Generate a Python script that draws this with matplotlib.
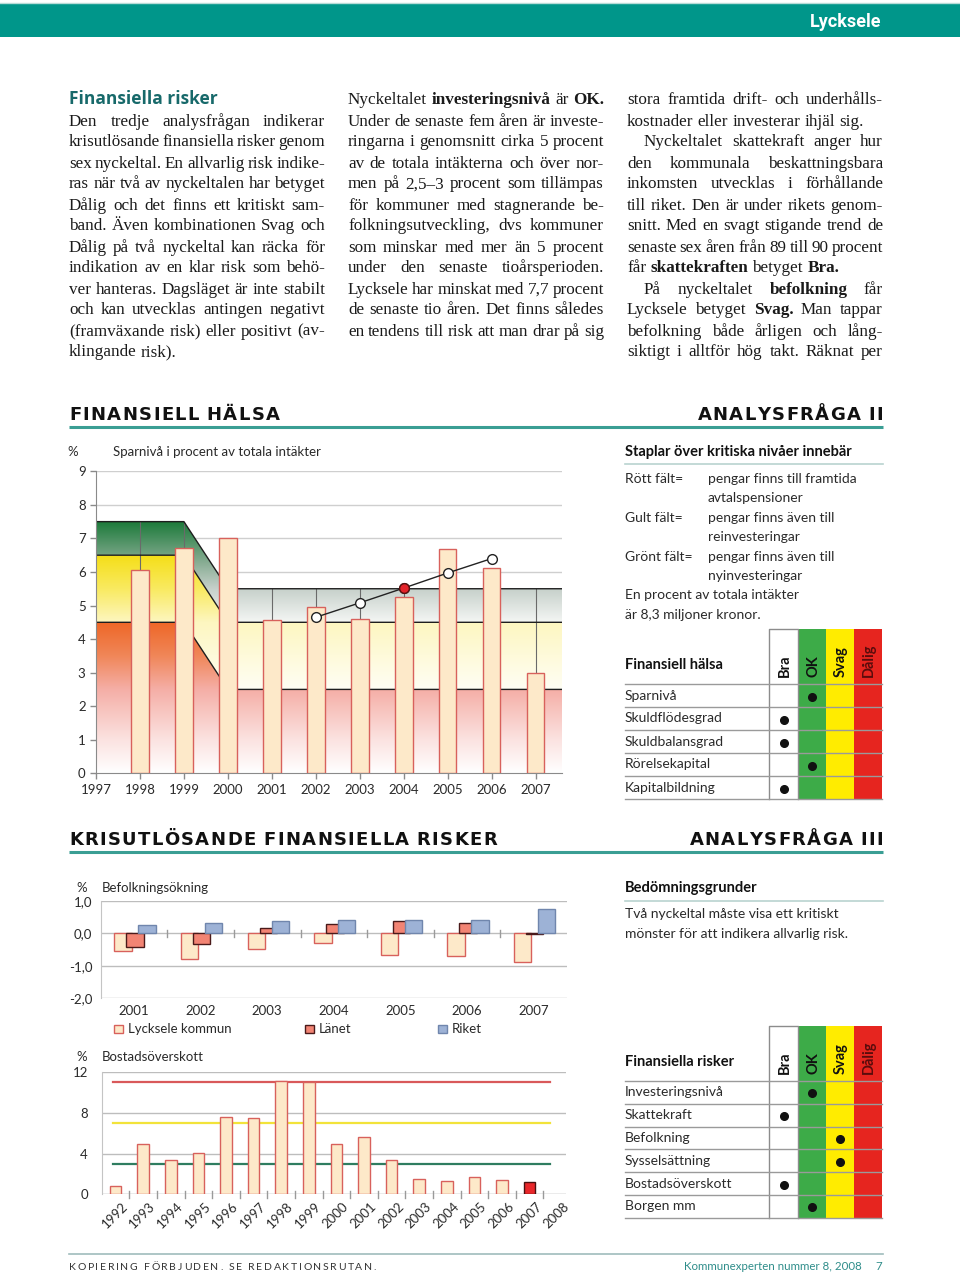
import matplotlib
matplotlib.use('Agg')
import numpy as np
import matplotlib.pyplot as plt
from matplotlib.colors import to_rgb
from matplotlib.patches import Rectangle, Polygon

# ---- data ----
spar_years = [1998, 1999, 2000, 2001, 2002, 2003, 2004, 2005, 2006, 2007]
spar_values = [6.05, 6.7, 7.0, 4.57, 4.95, 4.6, 5.25, 6.68, 6.12, 3.0]
trend_years = [2002, 2003, 2004, 2005, 2006]
trend_values = [4.65, 5.08, 5.52, 5.97, 6.4]
trend_red_year = 2004
band_x = [1997, 1999, 2000, 2007.6]
green_top = [7.5, 7.5, 5.5, 5.5]
yellow_top = [6.5, 6.5, 4.5, 4.5]
red_top = [4.5, 4.5, 2.5, 2.5]

pop_years = ['2001', '2002', '2003', '2004', '2005', '2006', '2007']
pop_lycksele = [-0.55, -0.79, -0.49, -0.28, -0.66, -0.69, -0.87]
pop_lanet = [-0.41, -0.33, 0.18, 0.30, 0.38, 0.32, -0.02]
pop_riket = [0.26, 0.31, 0.37, 0.41, 0.42, 0.42, 0.75]
pop_ticks = [-2, -1, 0, 1]
pop_ticklabels = ['-2,0', '-1,0', '0,0', '1,0']

bost_years = ['1992', '1993', '1994', '1995', '1996', '1997', '1998', '1999', '2000',
              '2001', '2002', '2003', '2004', '2005', '2006', '2007', '2008']
bost_values = [0.79, 4.98, 3.41, 4.10, 7.57, 7.48, 11.18, 11.08, 4.98,
               5.60, 3.41, 1.48, 1.28, 1.70, 1.41, 1.21]
bost_limits = [11, 7, 3]

grade_cols = ['Bra', 'OK', 'Svag', 'Dålig']
halsa_rows = ['Sparnivå', 'Skuldflödesgrad', 'Skuldbalansgrad', 'Rörelsekapital', 'Kapitalbildning']
halsa_grades = ['OK', 'Bra', 'Bra', 'OK', 'Bra']
risk_rows = ['Investeringsnivå', 'Skattekraft', 'Befolkning', 'Sysselsättning', 'Bostadsöverskott', 'Borgen mm']
risk_grades = ['OK', 'Bra', 'Svag', 'Svag', 'Bra', 'OK']

col1 = ["Den tredje analysfrågan indikerar",
        "krisutlösande finansiella risker genom",
        "sex nyckeltal. En allvarlig risk indike-",
        "ras när två av nyckeltalen har betyget",
        "Dålig och det finns ett kritiskt sam-",
        "band. Även kombinationen Svag och",
        "Dålig på två nyckeltal kan räcka för",
        "indikation av en klar risk som behö-",
        "ver hanteras. Dagsläget är inte stabilt",
        "och kan utvecklas antingen negativt",
        "(framväxande risk) eller positivt (av-",
        "klingande risk).|"]
col2 = ["Nyckeltalet **investeringsnivå** är **OK.**",
        "Under de senaste fem åren är investe-",
        "ringarna i genomsnitt cirka 5 procent",
        "av de totala intäkterna och över nor-",
        "men på 2,5–3 procent som tillämpas",
        "för kommuner med stagnerande be-",
        "folkningsutveckling, dvs kommuner",
        "som minskar med mer än 5 procent",
        "under den senaste tioårsperioden.",
        "Lycksele har minskat med 7,7 procent",
        "de senaste tio åren. Det finns således",
        "en tendens till risk att man drar på sig"]
col3 = ["stora framtida drift- och underhålls-",
        "kostnader eller investerar ihjäl sig.|",
        ">Nyckeltalet skattekraft anger hur",
        "den kommunala beskattningsbara",
        "inkomsten utvecklas i förhållande",
        "till riket. Den är under rikets genom-",
        "snitt. Med en svagt stigande trend de",
        "senaste sex åren från 89 till 90 procent",
        "får **skattekraften** betyget **Bra.**|",
        ">På nyckeltalet **befolkning** får",
        "Lycksele betyget **Svag.** Man tappar",
        "befolkning både årligen och lång-",
        "siktigt i alltför hög takt. Räknat per"]

key_rows = [('Rött fält=', ['pengar finns till framtida', 'avtalspensioner']),
            ('Gult fält=', ['pengar finns även till', 'reinvesteringar']),
            ('Grönt fält=', ['pengar finns även till', 'nyinvesteringar'])]

# ---- page setup ----
W, H = 960, 1277
SANS = 'Lato'
SERIF = 'Liberation Serif'
INK = '#2a2a2a'
TEAL = '#00968a'
BAR_FILL = '#fde9c9'
BAR_EDGE = '#d8615c'

fig = plt.figure(figsize=(W / 100, H / 100), dpi=100)
fig.patch.set_facecolor('white')
renderer = fig.canvas.get_renderer()

pg = fig.add_axes([0, 0, 1, 1])
pg.set_xlim(0, W)
pg.set_ylim(H, 0)
pg.axis('off')


def px_axes(x0, y0, x1, y1):
    a = fig.add_axes([x0 / W, 1 - y1 / H, (x1 - x0) / W, (y1 - y0) / H])
    a.set_facecolor('none')
    return a


def txt(x, y, s, size=9.5, **kw):
    kw.setdefault('family', SANS)
    kw.setdefault('color', INK)
    kw.setdefault('va', 'center')
    return pg.text(x, y, s, fontsize=size, **kw)


def body_line(x0, x1, y, line, size=12.3):
    indent = line.startswith('>')
    ragged = line.endswith('|')
    words = line.strip('>|').split()
    arts = []
    for w in words:
        bold = w.startswith('**')
        arts.append(pg.text(0, y + 4.5, w.strip('*'), fontsize=size, family=SERIF,
                            fontweight='bold' if bold else 'normal', color='#1a1a1a',
                            va='baseline'))
    widths = [a.get_window_extent(renderer).width for a in arts]
    start = x0 + (17 if indent else 0)
    if ragged or len(words) == 1:
        gap = size * 100 / 72 * 0.25
    else:
        gap = max(2.0, (x1 - start - sum(widths)) / (len(words) - 1))
    x = start
    for a, w in zip(arts, widths):
        a.set_x(x)
        x += w + gap


def spaced(x, y, s, size, track, ha='left', **kw):
    arts = [pg.text(0, y, ch, fontsize=size, va='baseline', **kw) for ch in s]
    widths = [size * 100 / 72 * 0.28 if ch == ' ' else a.get_window_extent(renderer).width
              for ch, a in zip(s, arts)]
    total = sum(widths) + track * (len(s) - 1)
    xx = x if ha == 'left' else x - total
    for a, w in zip(arts, widths):
        a.set_x(xx)
        xx += w + track


# header bar
pg.add_patch(Rectangle((0, 4), W, 33, facecolor=TEAL, edgecolor='none'))
pg.plot([0, W], [3, 3], color='#b8dcd8', lw=1)
txt(881, 22, 'Lycksele', size=13, color='white', fontweight='bold', ha='right',
    family='Roboto')

# body text
txt(69, 99, 'Finansiella risker', size=12.5, color='#17696a', fontweight='bold', family='Open Sans')
for i, line in enumerate(col1):
    body_line(69, 325, 121 + 21 * i, line)
for i, line in enumerate(col2):
    body_line(348, 604, 100 + 21 * i, line)
for i, line in enumerate(col3):
    body_line(627, 883, 100 + 21 * i, line)

# section headings
for y, left, right in [(420, 'FINANSIELL HÄLSA', 'ANALYSFRÅGA II'),
                       (845, 'KRISUTLÖSANDE FINANSIELLA RISKER', 'ANALYSFRÅGA III')]:
    spaced(69, y, left, 13, 1.4, fontweight='bold', family='DejaVu Sans', color='#111111')
    spaced(883, y, right, 13, 1.4, ha='right', fontweight='bold', family='DejaVu Sans',
           color='#111111')
    pg.plot([69, 883], [y + 7, y + 7], color='#3a9e94', lw=2.2, solid_capstyle='butt')

# ---- chart 1: Sparnivå ----
ax1 = px_axes(96, 471.3, 562, 773.3)
for v in range(1, 10):
    ax1.axhline(v, color='#cfcfcf', lw=1, zorder=0.5)

yy = np.linspace(0, 9, 400)


def gradient(stops, colors):
    rgb = np.array([to_rgb(c) for c in colors])
    cols = np.stack([np.interp(yy, stops, rgb[:, i]) for i in range(3)], axis=1)
    return np.repeat(cols[:, None, :], 2, axis=1)


bands = [(green_top, yellow_top, [4.5, 5.5, 6.3, 7.5], ['#f4f6f4', '#c6d0ca', '#86ac92', '#1c7a3a']),
         (yellow_top, red_top, [2.5, 4.5, 5.5, 6.5], ['#fffef4', '#fdf6c0', '#f9ea60', '#f5de17']),
         (red_top, [0, 0, 0, 0], [0, 1.0, 2.5, 3.5, 4.5], ['#ffffff', '#fbe2e0', '#f5aea6', '#f08658', '#ee6727'])]
for upper, lower, stops, colors in bands:
    im = ax1.imshow(gradient(stops, colors), extent=[1997, 2007.6, 0, 9], origin='lower',
                    aspect='auto', zorder=1, interpolation='bilinear')
    poly = Polygon(list(zip(band_x, upper)) + list(zip(band_x[::-1], lower[::-1])),
                   closed=True, facecolor='none', edgecolor='none')
    ax1.add_patch(poly)
    im.set_clip_path(poly)
for top in (green_top, yellow_top, red_top):
    ax1.plot(band_x, top, color='#1e1e1e', lw=1, zorder=2)
for yr in range(1998, 2008):
    ax1.plot([yr, yr], [0, np.interp(yr, band_x, green_top)], color='#6a6a6a', lw=0.8, zorder=1.5)

ax1.bar(spar_years, spar_values, width=0.4, color=BAR_FILL, edgecolor=BAR_EDGE, lw=1, zorder=3)
ax1.plot(trend_years, trend_values, color='#222222', lw=1, marker='o', ms=7,
         mfc='white', mec='#222222', zorder=4)
ax1.plot([trend_red_year], [trend_values[trend_years.index(trend_red_year)]], 'o', ms=7,
         mfc='#e3232a', mec='#5a1010', zorder=5)

ax1.set_xlim(1997, 2007.6)
ax1.set_ylim(0, 9)
ax1.set_yticks(range(10))
ax1.set_xticks(range(1997, 2008))
ax1.tick_params(labelsize=9.5, colors='#8a8a8a', labelcolor=INK, length=4, width=1)
for lab in ax1.get_xticklabels() + ax1.get_yticklabels():
    lab.set_family(SANS)
for side in ('top', 'right'):
    ax1.spines[side].set_visible(False)
for side in ('left', 'bottom'):
    ax1.spines[side].set_color('#8a8a8a')
txt(67, 452, '%', size=9.5)
txt(113, 452, 'Sparnivå i procent av totala intäkter', size=9.5)

# ---- right panel: key and tables ----
txt(625, 452, 'Staplar över kritiska nivåer innebär', size=10.5, fontweight='bold', color='#111111')
pg.plot([625, 883], [464, 464], color='#b9d3d0', lw=1.2)
ky = 479
for name, desc in key_rows:
    txt(625, ky, name, size=10)
    for d in desc:
        txt(708, ky, d, size=10)
        ky += 19.4
txt(625, ky, 'En procent av totala intäkter', size=10)
txt(625, ky + 19.6, 'är 8,3 miljoner kronor.', size=10)

col_x = [769, 798, 826, 854, 882]
col_fill = ['white', '#3dab48', '#ffec00', '#e6251f']
col_text = ['#111111', '#111111', '#111111', '#5a0c0c']


def grade_table(top, head_bottom, row_h, title, rows, grades):
    bottom = head_bottom + row_h * len(rows)
    for i in range(4):
        pg.add_patch(Rectangle((col_x[i], top), col_x[i + 1] - col_x[i], bottom - top,
                               facecolor=col_fill[i], edgecolor='none', zorder=1))
        pg.text((col_x[i] + col_x[i + 1]) / 2 + 1, head_bottom - 7, grade_cols[i],
                rotation=90, ha='center', va='bottom', fontsize=10.5, fontweight='bold',
                family=SANS, color=col_text[i], zorder=3)
    pg.plot([col_x[0], col_x[0], col_x[1], col_x[1]], [bottom, top, top, bottom],
            color='#8c8c8c', lw=1, zorder=2)
    for k in range(len(rows) + 1):
        yk = head_bottom + k * row_h
        pg.plot([625, col_x[-1]], [yk, yk], color='#9a9a9a', lw=1, zorder=2)
    txt(625, head_bottom - 19, title, size=10.5, fontweight='bold', color='#111111')
    for k, (r, g) in enumerate(zip(rows, grades)):
        yc = head_bottom + (k + 0.5) * row_h
        txt(625, yc, r, size=10)
        ci = grade_cols.index(g)
        pg.plot([(col_x[ci] + col_x[ci + 1]) / 2], [yc + 1], 'o', ms=5.5, color='#111111', zorder=4)


grade_table(629, 684, 23, 'Finansiell hälsa', halsa_rows, halsa_grades)
grade_table(1026, 1081, 22.8, 'Finansiella risker', risk_rows, risk_grades)

txt(625, 888, 'Bedömningsgrunder', size=10.5, fontweight='bold', color='#111111')
pg.plot([625, 883], [901, 901], color='#b9d3d0', lw=1.2)
txt(625, 914, 'Två nyckeltal måste visa ett kritiskt', size=10)
txt(625, 934, 'mönster för att indikera allvarlig risk.', size=10)

# ---- chart 2: Befolkningsökning ----
ax2 = px_axes(100.7, 901, 567, 998.3)
xpos = np.arange(len(pop_years))
for v in pop_ticks:
    ax2.axhline(v, color='#bdbdbd', lw=1, zorder=0.5)
ax2.bar(xpos - 0.165, pop_lycksele, width=0.26, color=BAR_FILL, edgecolor=BAR_EDGE, lw=1, zorder=2)
ax2.bar(xpos + 0.015, pop_lanet, width=0.26, color='#f28474', edgecolor='#4a1a1a', lw=1, zorder=3)
ax2.bar(xpos + 0.195, pop_riket, width=0.26, color='#9db2d6', edgecolor='#7086ad', lw=1, zorder=4)
for b in xpos[1:] - 0.5:
    ax2.plot([b, b], [-0.1, 0.1], color='#9a9a9a', lw=1, zorder=1)
ax2.set_xlim(-0.5, 6.5)
ax2.set_ylim(-2, 1)
ax2.set_xticks([])
ax2.set_yticks(pop_ticks)
ax2.set_yticklabels(pop_ticklabels, family=SANS)
ax2.tick_params(labelsize=9.5, colors='#9a9a9a', labelcolor=INK, length=0, pad=6)
for side in ('top', 'right', 'bottom'):
    ax2.spines[side].set_visible(False)
ax2.spines['left'].set_color('#c4c4c4')
for i, yr in enumerate(pop_years):
    txt(100.7 + (i + 0.5) * 466.3 / 7, 1011, yr, size=9.5, ha='center')
txt(76, 888, '%', size=9.5)
txt(102, 888, 'Befolkningsökning', size=9.5)
for lx, name, fc, ec in [(114, 'Lycksele kommun', BAR_FILL, BAR_EDGE),
                         (305, 'Länet', '#f28474', '#4a1a1a'),
                         (438, 'Riket', '#9db2d6', '#7086ad')]:
    pg.add_patch(Rectangle((lx, 1025), 9, 8, facecolor=fc, edgecolor=ec, lw=1))
    txt(lx + 14, 1029, name, size=9.5)

# ---- chart 3: Bostadsöverskott ----
ax3 = px_axes(101.7, 1072.3, 565.5, 1194.3)
bpos = np.arange(len(bost_values))
for v in (4, 8, 12):
    ax3.axhline(v, color='#bdbdbd', lw=1, zorder=0.5)
ax3.axhline(0, color='#9a9a9a', lw=1, zorder=0.6)
for lim, c in zip(bost_limits, ['#d9595a', '#f2e33a', '#2f7d60']):
    ax3.plot([-0.1, 15.75], [lim, lim], color=c, lw=1.6, zorder=1)
bar_colors = [BAR_FILL] * (len(bost_values) - 1) + ['#e8262a']
edge_colors = [BAR_EDGE] * (len(bost_values) - 1) + ['#4a1010']
ax3.bar(bpos, bost_values, width=0.42, color=bar_colors, edgecolor=edge_colors, lw=1, zorder=2)
for b in np.arange(1, len(bost_years)) - 0.5:
    ax3.plot([b, b], [-0.35, 0.35], color='#9a9a9a', lw=1, zorder=1, clip_on=False)
ax3.set_xlim(-0.5, 16.3)
ax3.set_ylim(0, 12)
ax3.set_xticks([])
ax3.set_yticks([0, 4, 8, 12])
ax3.tick_params(labelsize=9.5, colors='#9a9a9a', labelcolor=INK, length=0, pad=10)
for lab in ax3.get_yticklabels():
    lab.set_family(SANS)
for side in ('top', 'right', 'bottom'):
    ax3.spines[side].set_visible(False)
ax3.spines['left'].set_color('#c4c4c4')
for i, yr in enumerate(bost_years):
    txt(101.7 + (i + 0.5) * 27.6 + 6, 1200, yr, size=9.5, ha='right', va='top',
        rotation=45, rotation_mode='anchor')
txt(76, 1057, '%', size=9.5)
txt(102, 1057, 'Bostadsöverskott', size=9.5)

# footer
pg.plot([69, 883], [1254, 1254], color='#9fbcbc', lw=1.2)
spaced(69, 1270, 'KOPIERING FÖRBJUDEN. SE REDAKTIONSRUTAN.', 7.5, 1.65, family=SANS, color='#333333')
txt(862, 1266, 'Kommunexperten nummer 8, 2008', size=8.3, ha='right', color='#2f8d8a')
txt(882, 1266, '7', size=8.3, ha='right', color='#2f8d8a')

fig.savefig('out.png', dpi=100, facecolor='white')
